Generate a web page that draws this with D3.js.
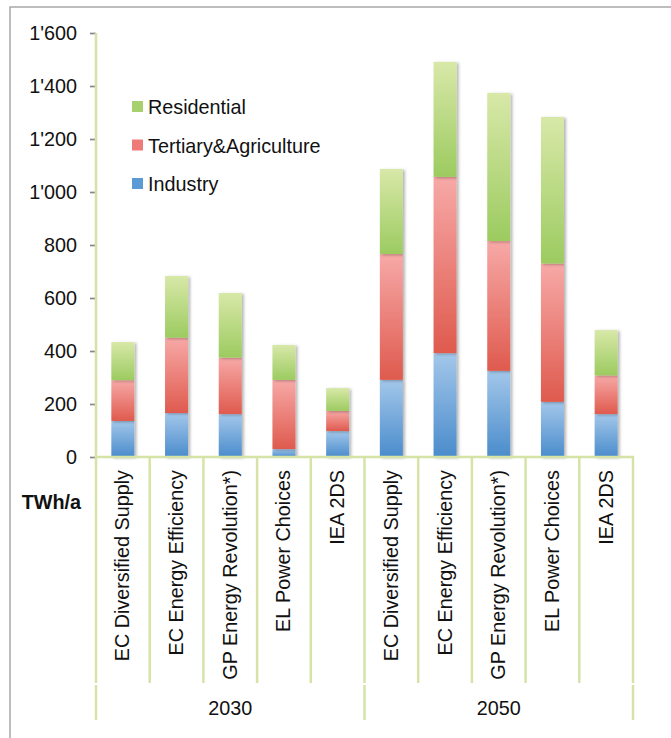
<!DOCTYPE html>
<html>
<head>
<meta charset="utf-8">
<script src="https://cdn.jsdelivr.net/npm/d3@7"></script>
<style>
  body { margin: 0; background: #fff; }
  svg { font-family: "Liberation Sans", Arial, sans-serif; }
</style>
</head>
<body>
<div id="chart"></div>
<script>
const years = ["2030", "2050"];
const scenarios = ["EC Diversified Supply", "EC Energy Efficiency", "GP Energy Revolution*)", "EL Power Choices", "IEA 2DS"];
const seriesNames = ["Industry", "Tertiary&Agriculture", "Residential"];
const industry = [136, 166, 162, 30, 98, 291, 392, 325, 208, 162];
const tertiary = [154, 284, 213, 261, 76, 475, 665, 490, 522, 146];
const residential = [144, 233, 244, 132, 86, 321, 434, 559, 553, 171];
const yTicks = [0, 200, 400, 600, 800, 1000, 1200, 1400, 1600];

const width = 671, height = 738;
const plotL = 96, plotR = 633, plotT = 33, plotB = 457;
const fs = 19.8;

const rows = [];
years.forEach((yr, gi) => {
  scenarios.forEach((s, si) => {
    const i = gi * scenarios.length + si;
    rows.push({ key: yr + "|" + s, year: yr, name: s,
      Industry: industry[i], "Tertiary&Agriculture": tertiary[i], Residential: residential[i] });
  });
});

const svg = d3.select("#chart").append("svg")
  .attr("width", width).attr("height", height);

const defs = svg.append("defs");
const grads = {
  "Industry": ["#a3c7ea", "#4a8ccc"],
  "Tertiary&Agriculture": ["#f7a9a7", "#df5a4e"],
  "Residential": ["#d8e8a8", "#9ccb60"]
};
const legendCol = { "Industry": "#5b9bd5", "Tertiary&Agriculture": "#ee7b78", "Residential": "#a7d06f" };
seriesNames.forEach((n, i) => {
  const g = defs.append("linearGradient").attr("id", "g" + i)
    .attr("x1", 0).attr("y1", 0).attr("x2", 0).attr("y2", 1);
  g.append("stop").attr("offset", "0%").attr("stop-color", grads[n][0]);
  g.append("stop").attr("offset", "100%").attr("stop-color", grads[n][1]);
});
const sh = defs.append("filter").attr("id", "shadow")
  .attr("x", "-30%").attr("y", "-10%").attr("width", "160%").attr("height", "120%");
sh.append("feDropShadow").attr("dx", 2).attr("dy", 1).attr("stdDeviation", 1.5)
  .attr("flood-color", "#000").attr("flood-opacity", 0.3);

// frame
svg.append("rect").attr("x", 10).attr("y", 7).attr("width", 700).attr("height", 800)
  .attr("fill", "none").attr("stroke", "#a8a8a8").attr("stroke-width", 1.5);

const y = d3.scaleLinear().domain([0, 1600]).range([plotB, plotT]);
const x = d3.scaleBand().domain(rows.map(d => d.key)).range([plotL, plotR]).padding(0);
const xg = d3.scaleBand().domain(years).range([plotL, plotR]).padding(0);
const barW = 23;

const fmt = d3.formatLocale({ decimal: ".", thousands: "'", grouping: [3], currency: ["", ""] }).format(",");

// gridlines
const grid = svg.append("g");
grid.selectAll("line").data(yTicks.filter(t => t > 0)).join("line")
  .attr("x1", plotL - 6).attr("x2", plotR)
  .attr("y1", d => y(d)).attr("y2", d => y(d))
  .attr("stroke", "#88888d").attr("stroke-width", 1.7)
  .attr("filter", "url(#shadow)");

// y axis
const yAxis = svg.append("g").attr("transform", `translate(${plotL},0)`)
  .call(d3.axisLeft(y).tickValues(yTicks).tickFormat(fmt).tickSize(6).tickPadding(13));
yAxis.select(".domain").remove();
yAxis.selectAll(".tick line").attr("stroke", "#88888d").attr("stroke-width", 1.7);
yAxis.selectAll(".tick text").attr("font-size", fs).attr("fill", "#111")
  .attr("font-family", "Liberation Sans, Arial, sans-serif");

// bars
const stack = d3.stack().keys(seriesNames)(rows);
svg.append("g").selectAll("g").data(stack).join("g")
  .attr("fill", (d, i) => `url(#g${i})`)
  .selectAll("rect").data(d => d).join("rect")
  .attr("x", d => x(d.data.key) + x.bandwidth() / 2 - barW / 2)
  .attr("width", barW)
  .attr("y", d => y(d[1]))
  .attr("height", d => y(d[0]) - y(d[1]))
  .attr("filter", "url(#shadow)");

// axis lines (green)
const axisCol = "#d5e4a6";
svg.append("line").attr("x1", plotL).attr("x2", plotL).attr("y1", plotT).attr("y2", plotB)
  .attr("stroke", axisCol).attr("stroke-width", 2.5);
svg.append("line").attr("x1", plotL).attr("x2", plotR + 1).attr("y1", plotB).attr("y2", plotB)
  .attr("stroke", axisCol).attr("stroke-width", 2.5);
const bounds = rows.map(d => x(d.key)).concat([plotR]);
svg.append("g").selectAll("line").data(bounds).join("line")
  .attr("x1", d => d).attr("x2", d => d).attr("y1", plotB).attr("y2", 683)
  .attr("stroke", axisCol).attr("stroke-width", 2.5);
const gBounds = years.map(d => xg(d)).concat([plotR]);
svg.append("g").selectAll("line").data(gBounds).join("line")
  .attr("x1", d => d).attr("x2", d => d).attr("y1", 685).attr("y2", 720)
  .attr("stroke", axisCol).attr("stroke-width", 2.5);

// category labels
svg.append("g").selectAll("text").data(rows).join("text")
  .attr("transform", d => `translate(${x(d.key) + x.bandwidth() / 2},470) rotate(-90)`)
  .attr("dy", "0.33em")
  .attr("text-anchor", "end")
  .attr("font-size", fs).attr("fill", "#111")
  .text(d => d.name);

// group labels
svg.append("g").selectAll("text").data(years).join("text")
  .attr("x", d => xg(d) + xg.bandwidth() / 2).attr("y", 715)
  .attr("text-anchor", "middle").attr("font-size", fs).attr("fill", "#111")
  .text(d => d);

// unit
svg.append("text").attr("x", 81).attr("y", 509).attr("text-anchor", "end")
  .attr("font-size", fs).attr("font-weight", "bold").attr("fill", "#111")
  .text("TWh/a");

// legend
const legend = svg.append("g");
legend.append("rect").attr("x", 122).attr("y", 88).attr("width", 211).attr("height", 115)
  .attr("fill", "#fff");
const legendItems = ["Residential", "Tertiary&Agriculture", "Industry"];
const li = legend.selectAll("g.item").data(legendItems).join("g").attr("class", "item")
  .attr("transform", (d, i) => `translate(132,${107 + i * 38.5})`);
li.append("rect").attr("x", 0).attr("y", -6).attr("width", 11).attr("height", 11)
  .attr("fill", d => legendCol[d]);
li.append("text").attr("x", 16).attr("y", 7).attr("font-size", fs).attr("fill", "#111")
  .text(d => d);
</script>
</body>
</html>
